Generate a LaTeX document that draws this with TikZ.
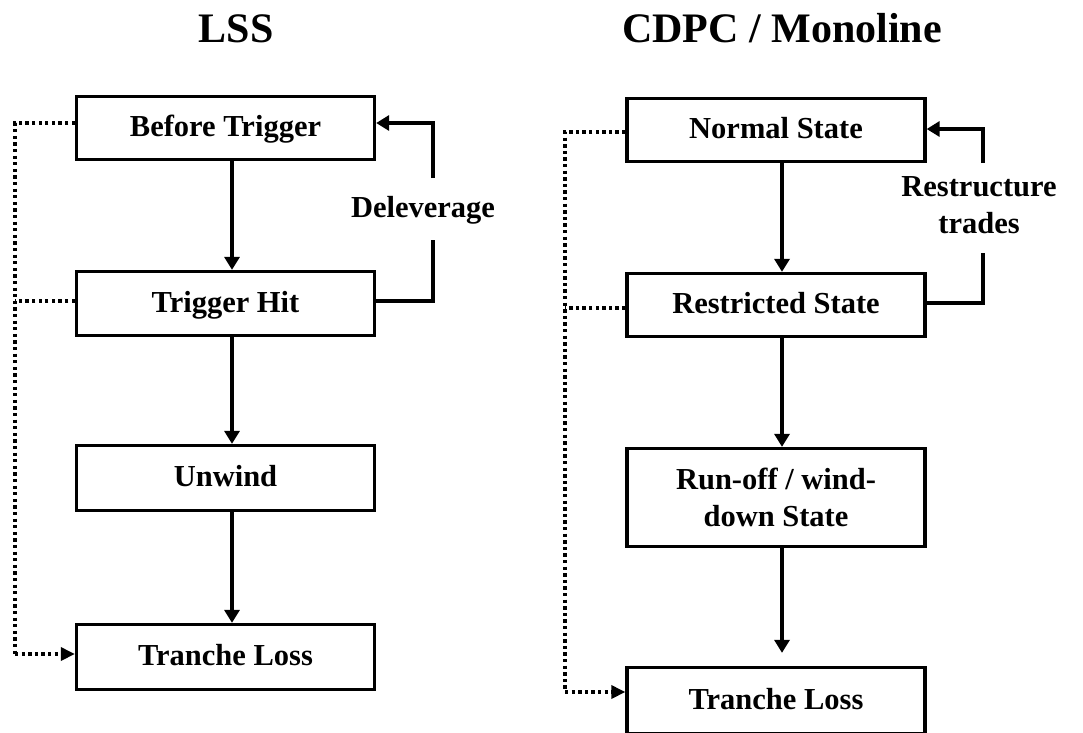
\documentclass[tikz,border=0pt]{standalone}
\usepackage{fontspec}
\setmainfont{Liberation Serif}
\usetikzlibrary{arrows.meta,calc}
\begin{document}
\begin{tikzpicture}[x=1pt,y=-1pt,
  boxbase/.style={draw,line width=3.3pt,minimum width=298pt,inner sep=0pt,align=center,
    font=\fontsize{30.5}{37}\selectfont\bfseries},
  box/.style={boxbase,text height=22pt,text depth=5pt},
  lbl/.style={align=center,inner sep=0pt,font=\fontsize{30.5}{37}\selectfont\bfseries},
  ttl/.style={anchor=base,inner sep=0pt,font=\fontsize{42}{50}\selectfont\bfseries},
  flow/.style={line width=3.3pt,-{Triangle[length=13pt,width=15pt]}},
  plain/.style={line width=3.3pt},
  dots/.style={line width=3.3pt,dash pattern=on 3.3pt off 3.3pt},
  dotarrow/.style={dots,-{Triangle[length=14pt,width=13pt]}}]
\useasboundingbox (0,0) rectangle (1083,732);
\clip (0,0) rectangle (1083,732);
% titles
\node[ttl] (t1) at (236,42) {LSS};
\node[ttl] (t2) at (782,42) {CDPC / Monoline};
% left column
\node[box,minimum height=63pt] (bt) at (225.5,128) {Before Trigger};
\node[box,minimum height=64pt] (th) at (225.5,303.5) {Trigger Hit};
\node[box,minimum height=65pt] (uw) at (225.5,478) {Unwind};
\node[box,minimum height=65pt] (tl) at (225.5,657) {Tranche Loss};
\draw[flow] ($(bt.south)+(6.5,0)$) -- ($(th.north)+(6.5,0)$);
\draw[flow] ($(th.south)+(6.5,0)$) -- ($(uw.north)+(6.5,0)$);
\draw[flow] ($(uw.south)+(6.5,0)$) -- ($(tl.north)+(6.5,0)$);
\node[lbl] (dl) at (423,210) {Deleverage};
\coordinate (dlb) at (433,240);
\coordinate (dlt) at (433,178);
\draw[plain] ($(th.east)+(0,-2.5)$) -| (dlb);
\draw[flow] (dlt) |- ($(bt.east)+(0,-5)$);
\coordinate (lx1) at (15,123);
\coordinate (lx2) at (15,301);
\coordinate (lx3) at (15,654);
\draw[dots] ($(bt.west)+(0,-5)$) -- (lx1) -- (lx3);
\draw[dots] ($(th.west)+(0,-2.5)$) -- (lx2);
\draw[dotarrow] (lx3) -- ($(tl.west)+(0,-3)$);
% right column
\node[box,minimum height=63pt] (ns) at (776,130) {Normal State};
\node[box,minimum height=63pt] (rs) at (776,305) {Restricted State};
\node[boxbase,minimum height=98pt] (ro) at (776,497.5) {Run-off / wind-\\down State};
\node[box,minimum height=66pt] (tl2) at (776,700.5) {Tranche Loss};
\draw[flow] ($(ns.south)+(6,0)$) -- ($(rs.north)+(6,0)$);
\draw[flow] ($(rs.south)+(6,0)$) -- ($(ro.north)+(6,0)$);
\draw[flow,shorten >=13pt] ($(ro.south)+(6,0)$) -- ($(tl2.north)+(6,0)$);
\node[lbl] (rt) at (979,205) {Restructure\\trades};
\coordinate (rtb) at (983,253);
\coordinate (rtt) at (983,163);
\draw[plain] ($(rs.east)+(0,-2)$) -| (rtb);
\draw[flow] (rtt) |- ($(ns.east)+(0,-1)$);
\coordinate (rx1) at (565,132);
\coordinate (rx2) at (565,308);
\coordinate (rx3) at (565,692);
\draw[dots] ($(ns.west)+(0,2)$) -- (rx1) -- (rx3);
\draw[dots] ($(rs.west)+(0,3)$) -- (rx2);
\draw[dotarrow] (rx3) -- ($(tl2.west)+(0,-8.5)$);
\end{tikzpicture}
\end{document}
